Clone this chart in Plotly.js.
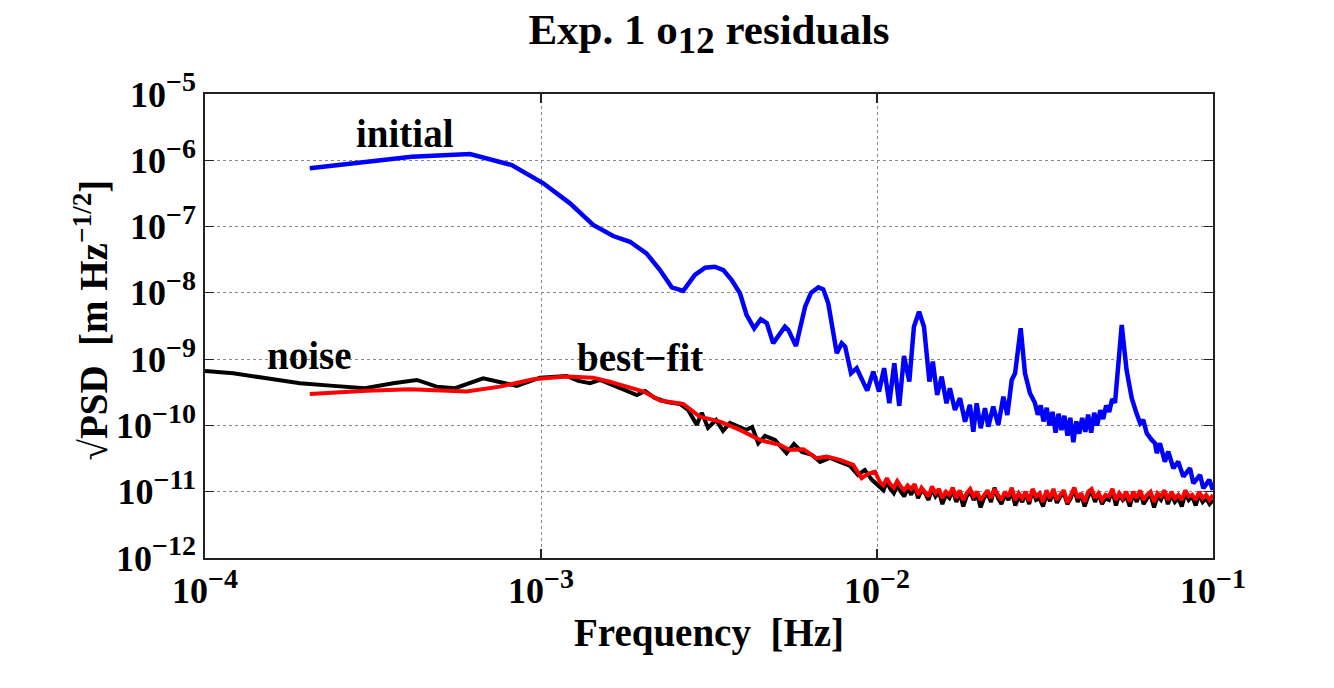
<!DOCTYPE html>
<html>
<head>
<meta charset="utf-8">
<script src="https://cdn.plot.ly/plotly-3.0.1.min.js"></script>
<style>html,body{margin:0;padding:0;background:#fff;}#chart{width:1334px;height:688px;}</style>
</head>
<body>
<div id="chart"></div>
<script>
// ---- data (frequency in Hz, sqrt(PSD) in m Hz^-1/2) ----
const initialFreq = [2.05e-4,4.12e-4,6.15e-4,8.18e-4,1.016e-3,1.22e-3,1.43e-3,1.64e-3,1.84e-3,2.06e-3,2.26e-3,2.45e-3,2.65e-3,2.87e-3,3.08e-3,3.29e-3,3.49e-3,3.69e-3,3.91e-3,4.09e-3,4.31e-3,4.51e-3,4.70e-3,4.91e-3,5.32e-3,5.45e-3,5.74e-3,6.11e-3,6.36e-3,6.69e-3,6.92e-3,7.16e-3,7.59e-3,7.85e-3,8.04e-3,8.37e-3,8.70e-3,8.99e-3,9.35e-3,9.75e-3,1.014e-2,1.05e-2,1.088e-2,1.126e-2,1.165e-2,1.203e-2,1.248e-2,1.288e-2,1.334e-2,1.38e-2,1.432e-2,1.466e-2,1.51e-2,1.558e-2,1.61e-2,1.648e-2,1.706e-2,1.766e-2,1.828e-2,1.89e-2,1.935e-2,1.98e-2,2.035e-2,2.096e-2,2.144e-2,2.218e-2,2.296e-2,2.377e-2,2.443e-2,2.518e-2,2.576e-2,2.677e-2,2.757e-2,2.853e-2,2.95e-2,3.01e-2,3.07e-2,3.13e-2,3.20e-2,3.26e-2,3.33e-2,3.40e-2,3.47e-2,3.54e-2,3.61e-2,3.69e-2,3.76e-2,3.84e-2,3.92e-2,4.00e-2,4.08e-2,4.17e-2,4.25e-2,4.34e-2,4.43e-2,4.52e-2,4.62e-2,4.71e-2,4.81e-2,4.91e-2,5.01e-2,5.11e-2,5.17e-2,5.35e-2,5.53e-2,5.73e-2,5.90e-2,6.07e-2,6.20e-2,6.35e-2,6.57e-2,6.72e-2,6.80e-2,6.95e-2,7.19e-2,7.36e-2,7.62e-2,7.88e-2,8.16e-2,8.54e-2,8.74e-2,9.15e-2,9.36e-2,9.75e-2,9.99e-2];
const initialVal = [7.57e-7,1.13e-6,1.24e-6,8.49e-7,4.5e-7,2.24e-7,1.06e-7,7.2e-8,5.9e-8,3.95e-8,2.21e-8,1.21e-8,1.07e-8,1.86e-8,2.4e-8,2.48e-8,2.21e-8,1.57e-8,9.86e-9,4.64e-9,2.92e-9,4.0e-9,3.48e-9,1.74e-9,3.09e-9,2.75e-9,1.58e-9,6.2e-9,1.0e-8,1.21e-8,1.13e-8,6.97e-9,1.23e-9,1.74e-9,1.55e-9,6.12e-10,7.3e-10,5.2e-10,3.35e-10,6.47e-10,3.24e-10,7.3e-10,2.16e-10,8.67e-10,1.97e-10,1.12e-9,4.58e-10,3.09e-9,5.2e-9,3.09e-9,4.58e-10,9.2e-10,2.88e-10,5.45e-10,2.16e-10,3.64e-10,1.71e-10,2.57e-10,1.14e-10,2.04e-10,8.05e-11,2.16e-10,9.08e-11,1.82e-10,9.6e-11,1.92e-10,1.02e-10,2.72e-10,1.44e-10,4.85e-10,6.12e-10,2.92e-9,6.12e-10,3.06e-10,2.2e-10,1.45e-10,2.0e-10,1.15e-10,1.85e-10,1.0e-10,1.6e-10,7.8e-11,1.5e-10,8.5e-11,1.4e-10,7.0e-11,1.3e-10,5.6e-11,1.15e-10,7.5e-11,1.3e-10,8.0e-11,1.45e-10,7.8e-11,1.55e-10,1.0e-10,1.7e-10,1.25e-10,2.0e-10,1.6e-10,2.5e-10,2.2e-10,4.85e-10,3.28e-9,6.87e-10,2.57e-10,1.61e-10,1.08e-10,1.21e-10,7.62e-11,6.04e-11,5.38e-11,3.81e-11,5.38e-11,2.84e-11,4.03e-11,2.26e-11,2.84e-11,1.69e-11,2.26e-11,1.34e-11,1.79e-11,1.13e-11,1.51e-11,1.06e-11];

const noiseFreq = [1.0e-4,1.214e-4,1.526e-4,1.918e-4,2.41e-4,2.99e-4,3.63e-4,4.27e-4,4.89e-4,5.55e-4,6.73e-4,7.55e-4,8.47e-4,9.93e-4,1.193e-3,1.29e-3,1.40e-3,1.50e-3,1.66e-3,1.815e-3,1.93e-3,2.04e-3,2.18e-3,2.37e-3,2.59e-3,2.74e-3,2.91e-3,3.01e-3,3.14e-3,3.32e-3,3.48e-3,3.65e-3,3.91e-3,4.07e-3,4.25e-3,4.43e-3,4.64e-3,4.97e-3,5.38e-3,5.66e-3,5.98e-3,6.41e-3,6.77e-3,7.25e-3,7.76e-3,8.31e-3,8.78e-3,9.2e-3,9.66e-3,
  1.020e-2,1.045e-2,1.070e-2,1.096e-2,1.122e-2,1.149e-2,1.177e-2,1.205e-2,1.234e-2,1.264e-2,1.294e-2,1.325e-2,1.357e-2,1.390e-2,1.423e-2,1.458e-2,1.493e-2,1.529e-2,1.565e-2,1.603e-2,1.642e-2,1.681e-2,1.722e-2,1.763e-2,1.806e-2,1.849e-2,1.894e-2,1.939e-2,1.986e-2,2.034e-2,2.083e-2,2.133e-2,2.184e-2,2.237e-2,2.291e-2,2.346e-2,2.402e-2,2.460e-2,2.519e-2,2.580e-2,2.642e-2,2.705e-2,2.770e-2,2.837e-2,2.905e-2,2.975e-2,3.047e-2,3.120e-2,3.195e-2,3.272e-2,3.351e-2,3.431e-2,3.514e-2,3.598e-2,3.685e-2,3.774e-2,3.864e-2,3.957e-2,4.053e-2,4.150e-2,4.250e-2,4.352e-2,4.457e-2,4.564e-2,4.674e-2,4.786e-2,4.901e-2,5.019e-2,5.140e-2,5.264e-2,5.390e-2,5.520e-2,5.653e-2,5.789e-2,5.928e-2,6.071e-2,6.217e-2,6.366e-2,6.520e-2,6.676e-2,6.837e-2,7.001e-2,7.170e-2,7.342e-2,7.519e-2,7.700e-2,7.885e-2,8.075e-2,8.269e-2,8.468e-2,8.672e-2,8.880e-2,9.094e-2,9.313e-2,9.537e-2,9.766e-2,1.0e-1];
const noiseVal = [6.64e-10,6.12e-10,5.15e-10,4.33e-10,3.95e-10,3.64e-10,4.33e-10,4.85e-10,3.85e-10,3.64e-10,5.15e-10,4.58e-10,3.95e-10,5.26e-10,5.58e-10,4.69e-10,4.33e-10,4.85e-10,3.95e-10,3.31e-10,2.88e-10,3.31e-10,2.6e-10,2.26e-10,2.11e-10,1.71e-10,1.02e-10,1.55e-10,9.2e-11,1.21e-10,8.26e-11,1.09e-10,9.2e-11,8.55e-11,9.5e-11,5.38e-11,6.95e-11,6.04e-11,3.81e-11,5.26e-11,3.98e-11,3.59e-11,2.81e-11,3.24e-11,2.81e-11,2.45e-11,1.79e-11,2.13e-11,1.51e-11,
  1.20e-11,1.05e-11,1.40e-11,1.10e-11,9.5e-12,1.25e-11,1.00e-11,8.5e-12,1.15e-11,9.0e-12,
  1.20e-11,8.0e-12,1.05e-11,9.5e-12,7.5e-12,1.10e-11,8.5e-12,1.00e-11,6.5e-12,9.0e-12,
  8.0e-12,1.05e-11,7.0e-12,9.5e-12,6.0e-12,8.5e-12,1.00e-11,7.5e-12,9.0e-12,5.8e-12,
  8.0e-12,9.5e-12,7.0e-12,1.15e-11,8.0e-12,6.5e-12,9.0e-12,7.5e-12,1.00e-11,6.2e-12,
  8.5e-12,7.0e-12,9.5e-12,6.5e-12,1.05e-11,7.5e-12,8.0e-12,6.0e-12,9.0e-12,7.2e-12,
  1.00e-11,6.8e-12,8.5e-12,9.5e-12,6.5e-12,8.0e-12,1.10e-11,7.0e-12,9.0e-12,6.0e-12,
  8.5e-12,1.00e-11,7.0e-12,9.5e-12,6.5e-12,8.0e-12,7.5e-12,1.05e-11,6.2e-12,9.0e-12,
  7.5e-12,8.5e-12,6.0e-12,9.5e-12,7.0e-12,1.00e-11,6.5e-12,8.0e-12,9.0e-12,5.8e-12,
  8.5e-12,7.5e-12,1.00e-11,6.5e-12,9.0e-12,7.0e-12,8.0e-12,6.0e-12,9.5e-12,7.5e-12,
  8.5e-12,6.2e-12,9.0e-12,7.0e-12,8.0e-12,6.5e-12,7.5e-12];

const fitFreq = [2.05e-4,3.03e-4,4.07e-4,6.0e-4,7.55e-4,9.48e-4,1.19e-3,1.43e-3,1.6e-3,1.8e-3,2.02e-3,2.26e-3,2.65e-3,2.97e-3,3.41e-3,3.91e-3,4.49e-3,5.14e-3,5.5e-3,6.04e-3,6.6e-3,7.08e-3,7.76e-3,8.5e-3,9.0e-3,9.4e-3,9.86e-3,
  1.020e-2,1.045e-2,1.070e-2,1.096e-2,1.122e-2,1.149e-2,1.177e-2,1.205e-2,1.234e-2,1.264e-2,1.294e-2,1.325e-2,1.357e-2,1.390e-2,1.423e-2,1.458e-2,1.493e-2,1.529e-2,1.565e-2,1.603e-2,1.642e-2,1.681e-2,1.722e-2,1.763e-2,1.806e-2,1.849e-2,1.894e-2,1.939e-2,1.986e-2,2.034e-2,2.083e-2,2.133e-2,2.184e-2,2.237e-2,2.291e-2,2.346e-2,2.402e-2,2.460e-2,2.519e-2,2.580e-2,2.642e-2,2.705e-2,2.770e-2,2.837e-2,2.905e-2,2.975e-2,3.047e-2,3.120e-2,3.195e-2,3.272e-2,3.351e-2,3.431e-2,3.514e-2,3.598e-2,3.685e-2,3.774e-2,3.864e-2,3.957e-2,4.053e-2,4.150e-2,4.250e-2,4.352e-2,4.457e-2,4.564e-2,4.674e-2,4.786e-2,4.901e-2,5.019e-2,5.140e-2,5.264e-2,5.390e-2,5.520e-2,5.653e-2,5.789e-2,5.928e-2,6.071e-2,6.217e-2,6.366e-2,6.520e-2,6.676e-2,6.837e-2,7.001e-2,7.170e-2,7.342e-2,7.519e-2,7.700e-2,7.885e-2,8.075e-2,8.269e-2,8.468e-2,8.672e-2,8.880e-2,9.094e-2,9.313e-2,9.537e-2,9.766e-2,1.0e-1];
const fitVal = [2.99e-10,3.35e-10,3.52e-10,3.24e-10,3.85e-10,4.97e-10,5.45e-10,5.26e-10,4.57e-10,3.85e-10,3.24e-10,2.37e-10,2.11e-10,1.36e-10,1.14e-10,8.55e-11,6.0e-11,5.08e-11,4.27e-11,4.38e-11,3.2e-11,3.38e-11,3.02e-11,2.54e-11,1.6e-11,1.86e-11,2.01e-11,
  1.40e-11,1.25e-11,1.60e-11,1.30e-11,1.15e-11,1.45e-11,1.20e-11,1.05e-11,1.25e-11,1.10e-11,
  1.30e-11,9.0e-12,1.15e-11,1.00e-11,8.5e-12,1.20e-11,9.5e-12,1.10e-11,8.0e-12,1.00e-11,
  9.0e-12,1.15e-11,8.0e-12,1.05e-11,7.5e-12,9.5e-12,1.10e-11,8.5e-12,1.00e-11,7.5e-12,
  9.0e-12,1.05e-11,8.0e-12,1.10e-11,9.0e-12,7.5e-12,1.00e-11,8.5e-12,1.15e-11,7.5e-12,
  9.5e-12,8.0e-12,1.00e-11,7.2e-12,1.10e-11,8.5e-12,9.5e-12,7.0e-12,1.05e-11,8.0e-12,
  1.10e-11,7.5e-12,9.0e-12,1.05e-11,6.8e-12,9.0e-12,1.15e-11,8.0e-12,9.5e-12,7.0e-12,
  1.00e-11,1.10e-11,8.0e-12,9.5e-12,7.5e-12,9.0e-12,8.5e-12,1.10e-11,7.5e-12,9.5e-12,
  8.0e-12,1.00e-11,7.0e-12,1.00e-11,8.0e-12,1.05e-11,7.5e-12,9.0e-12,1.00e-11,7.0e-12,
  9.5e-12,8.5e-12,1.05e-11,7.5e-12,1.00e-11,8.0e-12,9.0e-12,7.5e-12,1.05e-11,8.5e-12,
  9.0e-12,7.5e-12,1.00e-11,8.0e-12,9.0e-12,7.5e-12,9.0e-12];

const xTickVals = [1e-4, 1e-3, 1e-2, 1e-1];
const xTickExp = ['−4','−3','−2','−1'];
const yTickVals = [1e-12,1e-11,1e-10,1e-9,1e-8,1e-7,1e-6,1e-5];
const yTickExp = ['−12','−11','−10','−9','−8','−7','−6','−5'];

const FONT = 'Liberation Serif, Times New Roman, serif';
const SUP = e => '10<sup><span style="font-size:28px">' + e + '</span></sup>';

const traces = [
  {x: noiseFreq, y: noiseVal, type: 'scatter', mode: 'lines', name: 'noise',
   line: {color: '#000000', width: 4}},
  {x: fitFreq, y: fitVal, type: 'scatter', mode: 'lines', name: 'best-fit',
   line: {color: '#ff0000', width: 4}},
  {x: initialFreq, y: initialVal, type: 'scatter', mode: 'lines', name: 'initial',
   line: {color: '#0000ff', width: 4.5}}
];

const axisCommon = {
  type: 'log', showline: true, linecolor: '#222', linewidth: 1.8, mirror: 'ticks',
  ticks: 'inside', ticklen: 9, tickwidth: 1.2, tickcolor: '#222',
  showgrid: true, gridcolor: '#888', griddash: 'dot', gridwidth: 1,
  zeroline: false, tickmode: 'array',
  tickfont: {family: FONT, size: 36, color: '#000', weight: 'bold'}
};

const bigFont = {family: FONT, size: 39, color: '#000', weight: 'bold'};

const layout = {
  width: 1334, height: 688,
  paper_bgcolor: '#fff', plot_bgcolor: '#fff',
  showlegend: false,
  margin: {l: 205, r: 121, t: 94, b: 130},
  title: {text: 'Exp. 1 o<sub><span style="font-size:37px">12</span></sub> residuals',
          xref: 'paper', x: 0.5, xanchor: 'center', y: 0.958, yanchor: 'middle',
          font: {family: FONT, size: 43, color: '#000', weight: 'bold'}},
  xaxis: Object.assign({}, axisCommon, {
    range: [-4, -1], tickvals: xTickVals, ticktext: xTickExp.map(SUP),
    title: {text: 'Frequency  [Hz]', standoff: 0, font: bigFont}
  }),
  yaxis: Object.assign({}, axisCommon, {
    range: [-12, -5], tickvals: yTickVals, ticktext: yTickExp.map(SUP)
  }),
  annotations: [
    {text: '√PSD  [m Hz<sup>−1/2</sup>]', textangle: -90, xref: 'paper', yref: 'paper',
     x: -0.113, y: 0.512, xanchor: 'center', yanchor: 'middle', showarrow: false, font: bigFont},
    {text: 'initial', x: -3.405, y: -5.59, xref: 'x', yref: 'y', showarrow: false, font: bigFont},
    {text: 'noise', x: -3.69, y: -8.94, xref: 'x', yref: 'y', showarrow: false, font: bigFont},
    {text: 'best−fit', x: -2.705, y: -8.97, xref: 'x', yref: 'y', showarrow: false, font: bigFont}
  ]
};

Plotly.newPlot('chart', traces, layout, {displayModeBar: false, staticPlot: true});
</script>
</body>
</html>
